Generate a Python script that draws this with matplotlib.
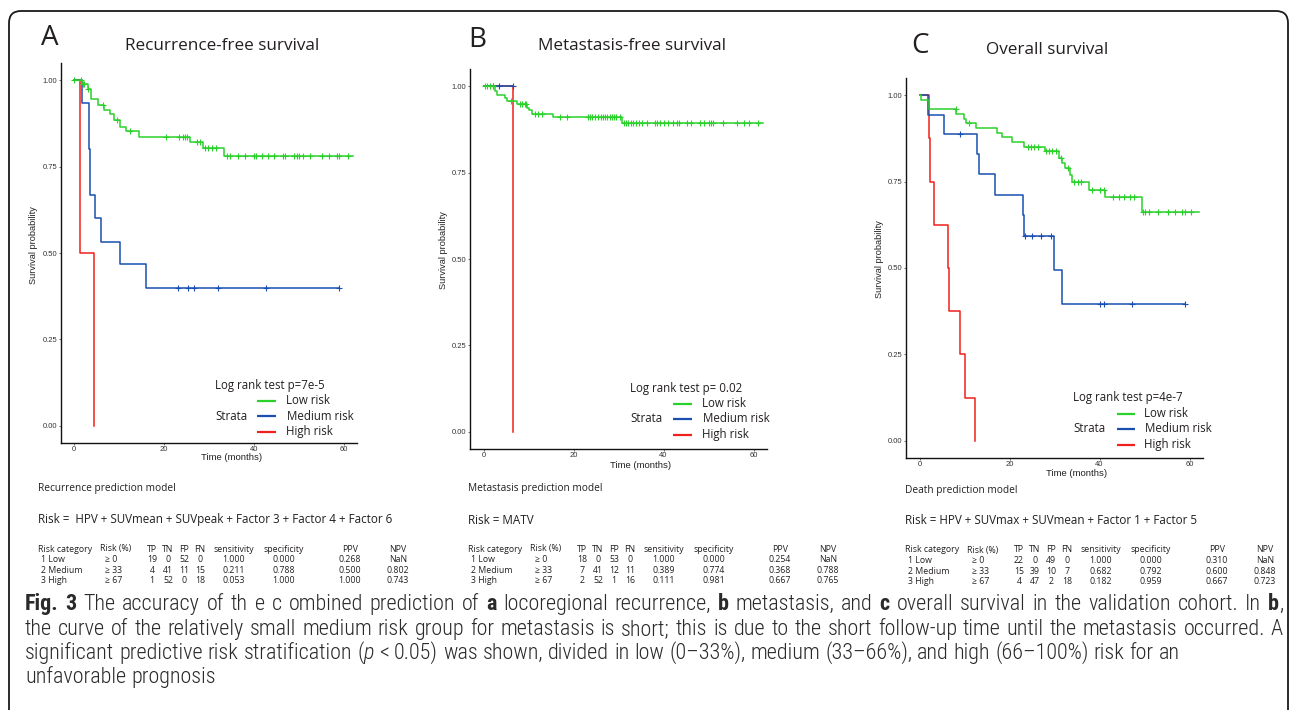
import numpy as np
import matplotlib
matplotlib.use("Agg")
import matplotlib.pyplot as plt
from matplotlib.lines import Line2D
from matplotlib.patches import FancyBboxPatch
from matplotlib import font_manager

W, H = 1292, 710

# --- Kaplan-Meier curves: step times (months) and survival after each step ---
# A  recurrence-free survival
a_low_t = [0, 1.8, 3.0, 3.8, 5.3, 6.6, 8.0, 8.9, 10.3, 11.5, 14.4, 25.9, 28.8, 33.4]
a_low_s = [1.0, 0.99, 0.975, 0.945, 0.927, 0.913, 0.901, 0.886, 0.866, 0.852, 0.837, 0.822, 0.805, 0.782]
a_low_end = 62.0
a_low_cens = [0.0, 1.5, 2.0, 2.3, 3.0, 6.5, 9.5, 12.5, 20.5, 23.3, 24.2, 24.7, 25.1, 27.4, 28.1,
              29.2, 29.9, 30.6, 31.7, 34.0, 34.8, 36.4, 38.1, 40.0, 40.6, 41.8, 43.1, 44.6, 46.5,
              47.0, 49.0, 49.6, 50.1, 51.0, 52.5, 55.3, 56.7, 58.6, 59.1, 61.0]
a_med_t = [0, 1.8, 3.4, 3.6, 4.6, 5.9, 10.3, 16.0]
a_med_s = [1.0, 0.933, 0.80, 0.667, 0.60, 0.533, 0.467, 0.40]
a_med_end = 59.0
a_med_cens = [23.2, 25.3, 26.8, 32.0, 42.8, 59.0]
a_high_t = [0, 1.3, 4.4]
a_high_s = [1.0, 0.5, 0.0]
a_high_end = 4.4
a_high_cens = []

# B  metastasis-free survival
b_low_t = [0, 2.6, 3.0, 4.7, 5.2, 7.4, 9.6, 10.0, 10.8, 15.4, 30.7]
b_low_s = [1.0, 0.986, 0.976, 0.966, 0.957, 0.948, 0.938, 0.930, 0.921, 0.911, 0.893]
b_low_end = 62.0
b_low_cens = [0.3, 0.8, 1.5, 2.0, 6.0, 8.0, 8.5, 9.2, 9.5, 11.5, 12.0, 13.0, 17.0, 18.5, 23.3,
              23.7, 24.2, 24.8, 25.5, 26.0, 26.5, 27.0, 27.5, 28.0, 28.5, 29.0, 29.5, 30.3, 31.3,
              31.7, 32.2, 32.7, 33.3, 33.8, 34.5, 35.2, 36.3, 38.0, 38.5, 39.2, 40.2, 41.0, 42.0,
              43.0, 43.5, 45.2, 46.2, 48.0, 49.0, 50.0, 50.6, 51.0, 53.2, 56.3, 57.8, 59.0, 61.0]
b_med_t = [0]
b_med_s = [1.0]
b_med_end = 6.6
b_med_cens = [3.5, 6.6]
b_high_t = [0, 6.5]
b_high_s = [1.0, 0.0]
b_high_end = 6.5
b_high_cens = [2.2]

# C  overall survival
c_low_t = [0, 0.3, 2.1, 8.1, 9.8, 10.4, 12.6, 17.2, 18.4, 20.6, 23.3, 27.8, 31.0, 31.6, 32.4,
           33.5, 33.9, 37.6, 41.3, 49.5]
c_low_s = [1.0, 0.986, 0.959, 0.946, 0.932, 0.919, 0.905, 0.892, 0.878, 0.865, 0.851, 0.838,
           0.818, 0.803, 0.789, 0.769, 0.749, 0.727, 0.705, 0.661]
c_low_end = 62.0
c_low_cens = [8.0, 11.1, 24.1, 24.8, 25.5, 26.3, 28.1, 28.8, 29.5, 30.4, 31.5, 33.0, 34.4, 35.2,
              35.9, 38.4, 40.0, 41.1, 43.0, 44.4, 45.5, 46.7, 47.6, 49.6, 50.2, 51.1, 53.0, 55.2,
              56.7, 58.4, 58.9, 60.4]
c_med_t = [0, 1.9, 5.4, 12.7, 13.3, 16.8, 23.0, 23.2, 29.8, 31.7]
c_med_s = [1.0, 0.944, 0.889, 0.830, 0.771, 0.712, 0.653, 0.594, 0.495, 0.396]
c_med_end = 59.0
c_med_cens = [8.9, 23.5, 25.0, 27.0, 29.2, 40.2, 41.0, 47.3, 59.0]
c_high_t = [0, 2.1, 2.4, 3.3, 6.3, 6.5, 9.1, 10.2, 12.3]
c_high_s = [1.0, 0.875, 0.75, 0.625, 0.5, 0.375, 0.25, 0.125, 0.0]
c_high_end = 12.3
c_high_cens = []

x_ticks = [0, 20, 40, 60]
y_ticks = [0.0, 0.25, 0.50, 0.75, 1.00]
strata = ["Low risk", "Medium risk", "High risk"]

titles = ["Recurrence-free survival", "Metastasis-free survival", "Overall survival"]
letters = ["A", "B", "C"]
pvals = ["Log rank test p=7e-5", "Log rank test p= 0.02", "Log rank test p=4e-7"]
models = ["Recurrence prediction model", "Metastasis prediction model", "Death prediction model"]
formulas = ["Risk =  HPV + SUVmean + SUVpeak + Factor 3 + Factor 4 + Factor 6",
            "Risk = MATV",
            "Risk = HPV + SUVmax + SUVmean + Factor 1 + Factor 5"]

# --- accuracy tables ---
tab_header = ["Risk category", "Risk (%)", "TP", "TN", "FP", "FN",
              "sensitivity", "specificity", "PPV", "NPV"]
tab_cat = ["1 Low", "2 Medium", "3 High"]
tab_risk = ["\u2265 0", "\u2265 33", "\u2265 67"]
a_tp, a_tn, a_fp, a_fn = [19, 4, 1], [0, 41, 52], [52, 11, 0], [0, 15, 18]
a_sens, a_spec = [1.000, 0.211, 0.053], [0.000, 0.788, 1.000]
a_ppv, a_npv = [0.268, 0.500, 1.000], [np.nan, 0.802, 0.743]
b_tp, b_tn, b_fp, b_fn = [18, 7, 2], [0, 41, 52], [53, 12, 1], [0, 11, 16]
b_sens, b_spec = [1.000, 0.389, 0.111], [0.000, 0.774, 0.981]
b_ppv, b_npv = [0.254, 0.368, 0.667], [np.nan, 0.788, 0.765]
c_tp, c_tn, c_fp, c_fn = [22, 15, 4], [0, 39, 47], [49, 10, 2], [0, 7, 18]
c_sens, c_spec = [1.000, 0.682, 0.182], [0.000, 0.792, 0.959]
c_ppv, c_npv = [0.310, 0.600, 0.667], [np.nan, 0.848, 0.723]

col_green, col_blue, col_red = "#2bd12b", "#1a4fb0", "#f0201c"
ink = "#231f20"
sans = ["Open Sans", "DejaVu Sans"]
arial = ["Liberation Sans", "DejaVu Sans"]


def pick_font(names):
    for n in names:
        try:
            font_manager.findfont(n, fallback_to_default=False)
            return n
        except ValueError:
            pass
    return "DejaVu Sans"


cap_font = pick_font(["Liberation Sans Narrow", "Roboto Condensed", "Liberation Sans"])

fig = plt.figure(figsize=(W / 100, H / 100), dpi=100)


def fx(x):
    return x / W


def fy(y):
    return 1 - y / H


def ftext(x, y, s, **kw):
    kw.setdefault("color", ink)
    kw.setdefault("family", sans)
    return fig.text(fx(x), fy(y), s, **kw)


def fline(x0, x1, y, color):
    fig.add_artist(Line2D([fx(x0), fx(x1)], [fy(y), fy(y)], transform=fig.transFigure,
                          color=color, lw=1.6, solid_capstyle="butt"))


# frame around the figure (open at the bottom, cut by the page)
fig.add_artist(FancyBboxPatch((0.09, -0.3), 12.79, 6.99 + 0.3,
                              boxstyle="round,pad=0,rounding_size=0.12",
                              transform=fig.dpi_scale_trans, fill=False,
                              ec="#1a1a1a", lw=1.3))

panels = [
    dict(curves=[(a_high_t, a_high_s, a_high_end, a_high_cens, col_red),
                 (a_med_t, a_med_s, a_med_end, a_med_cens, col_blue),
                 (a_low_t, a_low_s, a_low_end, a_low_cens, col_green)],
         box=(60.7, 357, 63, 443), x0=38, ylab=(33, 245), xlab=(232, 458),
         letter=(50, 38), title=(222, 46), leg=(215, 385, 257, 276, 286),
         tab=(a_tp, a_tn, a_fp, a_fn, a_sens, a_spec, a_ppv, a_npv), ty=(488, 520, 549)),
    dict(curves=[(b_high_t, b_high_s, b_high_end, b_high_cens, col_red),
                 (b_med_t, b_med_s, b_med_end, b_med_cens, col_blue),
                 (b_low_t, b_low_s, b_low_end, b_low_cens, col_green)],
         box=(470, 767, 69, 449), x0=468, ylab=(443, 250), xlab=(641, 465),
         letter=(477, 40), title=(632, 46), leg=(630, 388, 673, 692, 702),
         tab=(b_tp, b_tn, b_fp, b_fn, b_sens, b_spec, b_ppv, b_npv), ty=(488, 520, 549)),
    dict(curves=[(c_high_t, c_high_s, c_high_end, c_high_cens, col_red),
                 (c_med_t, c_med_s, c_med_end, c_med_cens, col_blue),
                 (c_low_t, c_low_s, c_low_end, c_low_cens, col_green)],
         box=(906, 1203, 78, 458), x0=905, ylab=(880, 259), xlab=(1077, 473),
         letter=(920, 46), title=(1047, 50), leg=(1073, 398, 1117, 1135, 1144),
         tab=(c_tp, c_tn, c_fp, c_fn, c_sens, c_spec, c_ppv, c_npv), ty=(490, 521, 550)),
]

# column offsets of the table (left edges for the first two, centres for the rest)
col_off = [0, 62, 114, 130, 146, 162, 196, 246, 312, 360]
row_gap = 10.6
leg_gap = 15.5

for i, p in enumerate(panels):
    l, r, t, b = p["box"]
    ax = fig.add_axes([fx(l), fy(b), (r - l) / W, (b - t) / H])
    for tt, ss, end, cens, col in p["curves"]:
        ax.step(list(tt) + [end], list(ss) + [ss[-1]], where="post", color=col, lw=1.1)
        if cens:
            idx = np.searchsorted(tt, cens, side="right") - 1
            ax.plot(cens, np.array(ss)[idx], "+", color=col, ms=5, mew=0.8)
    ax.set_xlim(-3, 63)
    ax.set_ylim(-0.05, 1.05)
    ax.set_xticks(x_ticks)
    ax.set_yticks(y_ticks)
    ax.set_yticklabels(["%.2f" % v for v in y_ticks])
    for s in ["top", "right"]:
        ax.spines[s].set_visible(False)
    for s in ["left", "bottom"]:
        ax.spines[s].set_linewidth(1.0)
        ax.spines[s].set_color("#111111")
    ax.tick_params(labelsize=5.5, length=1.5, width=0.5, pad=1, colors="#333333")
    for lab in ax.get_xticklabels() + ax.get_yticklabels():
        lab.set_family(arial)
    ax.patch.set_alpha(0)

    ftext(*p["ylab"], "Survival probability", fontsize=6.6, rotation=90,
          ha="center", va="center", family=arial)
    ftext(*p["xlab"], "Time (months)", fontsize=6.8, ha="center", va="center", family=arial)
    ftext(*p["letter"], letters[i], fontsize=20, ha="center", va="center")
    ftext(*p["title"], titles[i], fontsize=12.3, ha="center", va="center")

    # legend
    lx, ly, l0, l1, tx = p["leg"]
    ftext(lx, ly, pvals[i], fontsize=8.3, va="center")
    ftext(lx, ly + 2 * leg_gap, "Strata", fontsize=8.3, va="center")
    for k, col in enumerate([col_green, col_blue, col_red]):
        yy = ly + leg_gap * (k + 1)
        fline(l0, l1, yy, col)
        ftext(tx + (1 if k == 1 else 0), yy, strata[k], fontsize=8.3, va="center")

    # model text and table
    x0 = p["x0"]
    ym, yf, yt = p["ty"]
    ftext(x0, ym, models[i], fontsize=7.3, va="center")
    ftext(x0, yf, formulas[i], fontsize=8.4, va="center")
    for j, h in enumerate(tab_header):
        ftext(x0 + col_off[j], yt, h, fontsize=6.3, va="center",
              ha="left" if j < 2 else "center")
    tp, tn, fp, fn, sens, spec, ppv, npv = p["tab"]
    for k in range(3):
        yy = yt + row_gap * (k + 1)
        vals = [tab_cat[k], tab_risk[k], str(tp[k]), str(tn[k]), str(fp[k]), str(fn[k])]
        vals += ["NaN" if np.isnan(v) else "%.3f" % v for v in (sens[k], spec[k], ppv[k], npv[k])]
        for j, v in enumerate(vals):
            xx = x0 + col_off[j] + (3 if j == 0 else 0) + (5 if j == 1 else 0)
            ftext(xx, yy, v, fontsize=6.3, va="center", ha="left" if j < 2 else "center")

# --- caption with bold/italic parts, laid out word by word ---
renderer = fig.canvas.get_renderer()
cap_lines = [
    [("Fig. 3", "bold", "normal"),
     (" The accuracy of th e c ombined prediction of", "light", "normal"),
     (" a", "bold", "normal"), (" locoregional recurrence,", "light", "normal"),
     (" b", "bold", "normal"), (" metastasis, and", "light", "normal"),
     (" c", "bold", "normal"),
     (" overall survival in the validation cohort. In", "light", "normal"),
     (" b", "bold", "normal"), (",", "light", "normal")],
    [("the curve of the relatively small medium risk group for metastasis is short; this is due "
      "to the short follow-up time until the metastasis occurred. A", "light", "normal")],
    [("significant predictive risk stratification (", "light", "normal"),
     ("p", "light", "italic"),
     (" < 0.05) was shown, divided in low (0\u201333%), medium (33\u201366%), and high "
      "(66\u2013100%) risk for an", "light", "normal")],
    [("unfavorable prognosis", "light", "normal")],
]
cap_base = [610, 635, 659, 683]
cap_justify = [True, True, False, False]
cap_x0, cap_x1 = 25, 1283


def build_line(parts, y, size):
    words = []
    for txt, wt, st in parts:
        for k, w in enumerate(txt.split(" ")):
            if w == "":
                continue
            a = fig.text(fx(cap_x0), fy(y), w, fontsize=size, fontweight=wt, fontstyle=st,
                         family=cap_font, va="baseline", color="#2a2a2a")
            words.append([a, k > 0, a.get_window_extent(renderer).width])
    return words


def space_width(size):
    a = fig.text(0, 0, "n n", fontsize=size, family=cap_font, fontweight="light")
    b = fig.text(0, 0, "nn", fontsize=size, family=cap_font, fontweight="light")
    w = a.get_window_extent(renderer).width - b.get_window_extent(renderer).width
    a.remove()
    b.remove()
    return w


# natural width at size 10 to find the size that fills the frame
sw10 = space_width(10)
nat = []
for parts, yy in zip(cap_lines[:2], cap_base):
    ws = build_line(parts, yy, 10)
    nat.append(sum(w[2] for w in ws) + sw10 * sum(w[1] for w in ws))
    for w in ws:
        w[0].remove()
cap_size = 10 * (cap_x1 - cap_x0) / max(nat) * 0.985
sw = space_width(cap_size)

for parts, yy, just in zip(cap_lines, cap_base, cap_justify):
    ws = build_line(parts, yy, cap_size)
    n_sp = sum(w[1] for w in ws)
    gap = sw
    if just and n_sp:
        gap = (cap_x1 - cap_x0 - sum(w[2] for w in ws)) / n_sp
    x = cap_x0
    for a, sp, w in ws:
        if sp:
            x += gap
        a.set_x(fx(x))
        x += w

fig.savefig("out.png", dpi=100)
